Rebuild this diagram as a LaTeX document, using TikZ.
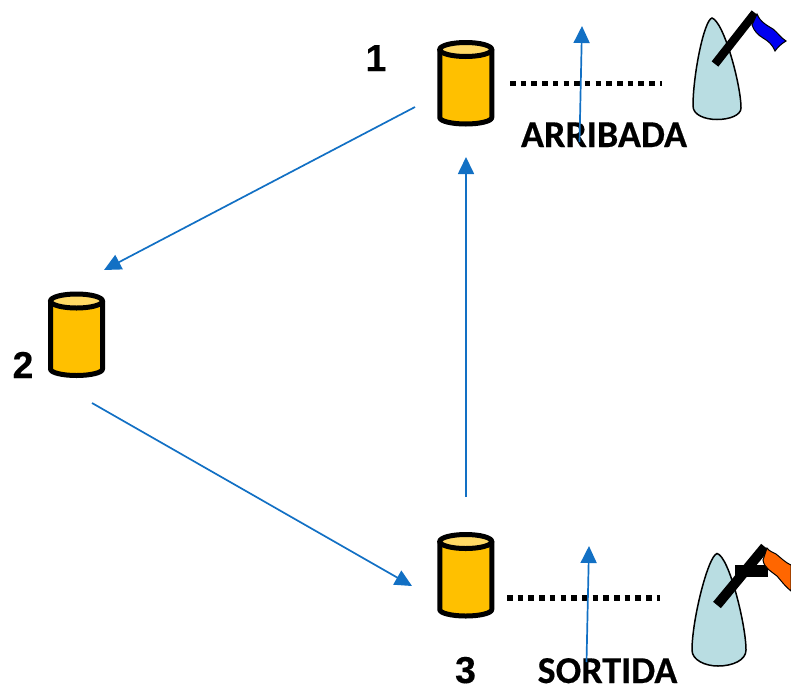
\documentclass[tikz,border=0pt]{standalone}
\usepackage{fontspec}
\setmainfont[BoldFeatures={FakeBold=0.35}]{Carlito}
\newfontfamily\numfont[BoldFeatures={FakeBold=0.35}]{Liberation Sans}
\usetikzlibrary{arrows.meta}
\definecolor{arrowblue}{HTML}{1270C4}
\definecolor{cylfill}{HTML}{FFC000}
\definecolor{cyltop}{HTML}{FFD966}
\definecolor{sailfill}{HTML}{B9DDE2}
\definecolor{flagblue}{HTML}{0000F0}
\definecolor{flagorange}{HTML}{FF6600}
\tikzset{
  flow/.style={draw=arrowblue,line width=1.7pt,-{Triangle[length=17pt,width=16pt]}},
  cyl/.pic={
    \fill[cylfill] (-26,-34) -- (26,-34) -- (26,34) arc[start angle=0,end angle=180,x radius=26,y radius=6.5] -- cycle;
    \draw[black,line width=5pt,line join=round] (-26,-34) -- (-26,34) arc[start angle=180,end angle=0,x radius=26,y radius=6.5] -- (26,-34);
    \draw[black,line width=5pt,fill=cyltop] (0,-34) ellipse[x radius=26,y radius=7];
  },
  sail/.style={draw=black,line width=1.5pt,fill=sailfill},
  tie/.style={draw=black,line width=5.5pt,dash pattern=on 5.5pt off 5.2pt},
  lab/.style={font=\bfseries\fontsize{38}{38}\selectfont,inner sep=0pt,anchor=base},
  num/.style={font=\numfont\bfseries\fontsize{37.5}{38}\selectfont,inner sep=0pt,anchor=base},
}
\begin{document}
\begin{tikzpicture}[x=1pt,y=-1pt]
\useasboundingbox (0,0) rectangle (791,686);
% cylinders
\pic at (465.75,83.5) {cyl};
\pic at (76.5,335) {cyl};
\pic at (465.75,575.5) {cyl};
% sail 1
\path[sail] (712,18) .. controls (704,20) and (693,75) .. (693,106)
  .. controls (693,115) and (705,119.5) .. (717,119.5)
  .. controls (730,119.5) and (741,115) .. (741,108)
  .. controls (741,85) and (724,22) .. (712,18) -- cycle;
\draw[black,line width=8.5pt] (715,64) -- (755,13);
\path[draw=black,line width=1pt,fill=flagblue] (757,14)
  .. controls (760,22) and (768,26) .. (773,29)
  .. controls (778,33) and (781,38) .. (786,41)
  .. controls (781,44) and (778,47) .. (775,51)
  .. controls (772,44) and (768,41) .. (763,38)
  .. controls (758,35) and (754,31) .. (752,25) -- cycle;
% sail 2
\path[sail] (717,553.5) .. controls (708,556) and (692,620) .. (692,650)
  .. controls (692,660) and (705,666) .. (718,666)
  .. controls (733,666) and (746,660) .. (746,650)
  .. controls (746,625) and (729,556) .. (717,553.5) -- cycle;
\draw[black,line width=10pt] (717,605) -- (765,547);
\fill[black] (735,565) rectangle (768,577);
\path[draw=black,line width=1pt,fill=flagorange] (767,548)
  .. controls (770,552) and (773,552) .. (776,554)
  .. controls (781,558) and (786,563) .. (791,565)
  -- (791,591) .. controls (785,586) and (782,582) .. (777,576)
  .. controls (772,572) and (764,568) .. (763,560) -- cycle;
% ties
\coordinate (t1a) at (510,83.3); \coordinate (t1b) at (662,83.3);
\coordinate (t3a) at (507,598); \coordinate (t3b) at (660,598);
\draw[tie] (t1a) -- (t1b);
\draw[tie] (t3a) -- (t3b);
% labels
\node[num] (n1) at (376,71) {1};
\node[num] (n2) at (23,378) {2};
\node[num] (n3) at (465.5,683) {3};
\node[lab] (arr) at (604,147) {ARRIBADA};
\node[lab] (sor) at (607.5,683) {SORTIDA};
% arrows
\coordinate (a1s) at (415,107); \coordinate (a1e) at (104,270);
\coordinate (a2s) at (92,403); \coordinate (a2e) at (412,586);
\coordinate (a3s) at (466,497); \coordinate (a3e) at (466,157);
\coordinate (a4s) at (579.5,142); \coordinate (a4e) at (582,26);
\coordinate (a5s) at (586.5,662); \coordinate (a5e) at (589,546);
\draw[flow] (a1s) -- (a1e);
\draw[flow] (a2s) -- (a2e);
\draw[flow] (a3s) -- (a3e);
\draw[flow] (a4s) -- (a4e);
\draw[flow] (a5s) -- (a5e);
\end{tikzpicture}
\end{document}
